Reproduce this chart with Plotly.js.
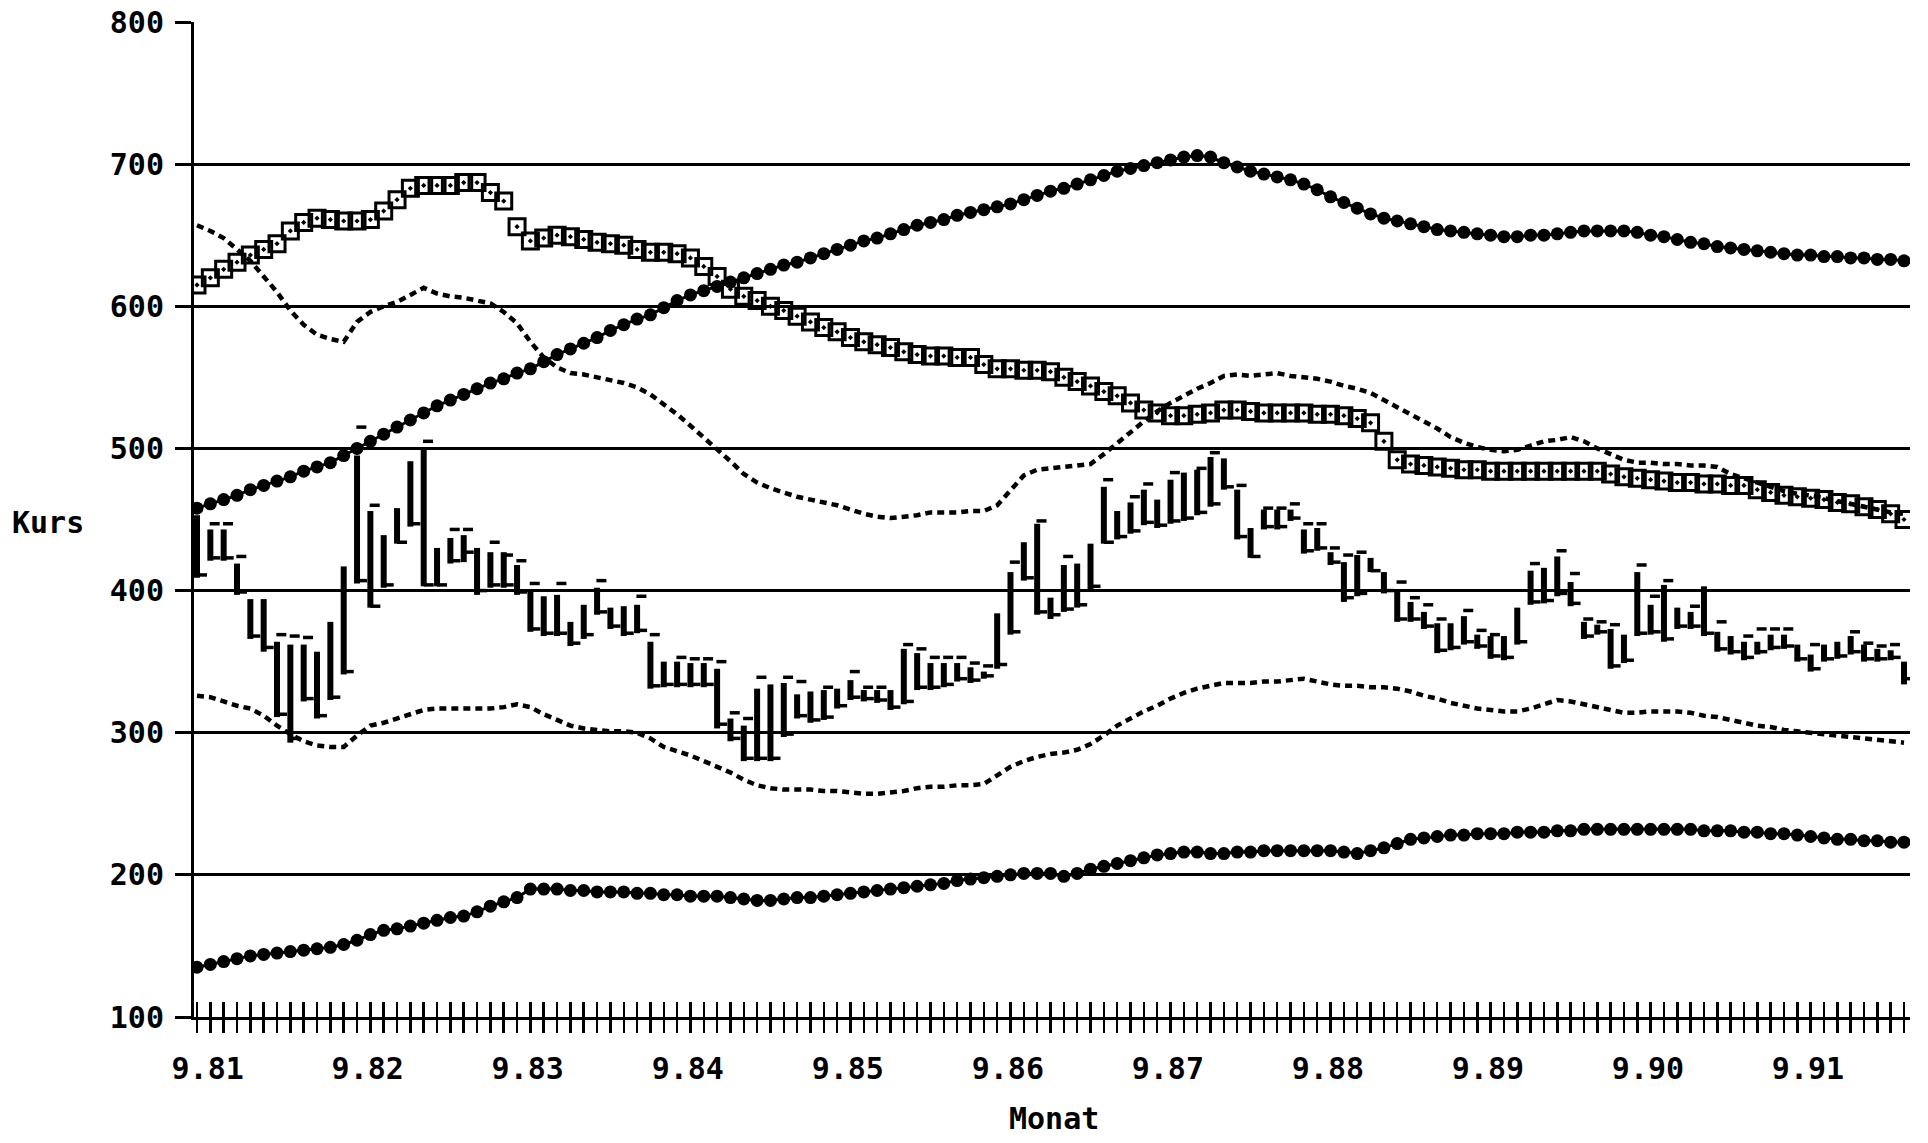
<!DOCTYPE html>
<html>
<head>
<meta charset="utf-8">
<script src="https://cdn.plot.ly/plotly-3.0.1.min.js"></script>
<style>html,body{margin:0;padding:0;background:#fff;}#chart{width:1928px;height:1143px;}</style>
</head>
<body>
<div id="chart"></div>
<script>
// Month index 0..128 (Sept 1981 .. ~1991)
const tickLabels = ["9.81","9.82","9.83","9.84","9.85","9.86","9.87","9.88","9.89","9.90","9.91"];

// Price bars: monthly high / low / close, plus floating dash marks
const high = [453,443,443,419,394,394,364,362,362,357, 378,417,495,456,439,458,491,499,430,437,
 439,430,427,427,418,399,396,397,378,390, 402,388,389,390,364,350,350,349,349,345,
 310,305,331,334,335,327,329,330,331,337, 330,330,330,359,356,349,349,349,346,343,
 384,413,434,447,395,418,419,433,473,456, 462,471,464,478,483,485,494,493,471,444,
 457,457,457,443,444,427,420,425,423,413, 399,392,385,377,377,382,369,368,368,388,
 414,416,424,406,378,376,373,369,413,390, 404,388,385,403,371,368,364,364,369,369,
 362,355,362,364,368,362,359,358,350];
const low = [409,421,421,397,366,357,311,293,322,310, 323,341,405,388,402,433,445,403,403,419,
 420,397,402,402,397,371,368,368,361,366, 383,373,368,370,331,332,332,332,332,303,
 294,280,280,280,297,310,307,309,317,323, 322,321,316,320,330,330,332,336,335,338,
 345,369,407,383,380,385,388,400,433,436, 440,446,444,447,449,453,459,471,436,423,
 443,443,449,426,428,418,392,396,413,398, 378,378,373,356,358,362,359,352,351,362,
 390,391,396,389,366,369,345,349,368,369, 364,373,373,368,357,355,351,355,358,359,
 350,343,350,352,355,350,350,351,334];
const close = [411,423,423,399,368,360,313,296,324,312, 325,343,407,389,404,434,447,404,404,421,
 427,400,404,404,399,373,370,370,363,369, 385,375,370,372,333,334,334,334,334,306,
 296,282,282,282,299,312,309,311,319,325, 324,323,318,322,332,332,334,338,337,340,
 348,371,409,385,383,387,390,403,434,438, 442,448,446,449,451,455,461,473,438,424,
 445,445,451,428,430,420,395,398,414,400, 380,380,375,358,360,364,361,354,353,364,
 392,393,398,391,368,371,347,351,370,371, 366,375,375,370,359,357,353,357,360,361,
 352,345,352,354,357,352,352,353,338];
const marks = [null,447,447,424,null,null,369,368,367,null, null,null,515,460,null,null,null,505,null,443,
 443,null,434,425,421,405,null,405,null,null, 407,null,null,396,369,null,353,352,352,350,
 314,310,339,null,339,336,null,332,null,343, 332,332,null,362,359,353,353,353,349,347,
 null,420,null,449,null,424,null,null,478,null, 466,475,null,483,null,486,497,null,474,null,
 458,458,461,447,447,430,425,427,null,null, 406,395,390,380,null,386,372,369,null,null,
 419,null,428,412,380,378,376,null,418,396, 407,null,389,null,378,null,368,373,373,373,
 null,362,null,null,371,363,361,362,null];

// Upper filled-circle line
const upperDots = [458,461,464,467,471,474,477,480,484,487, 490,495,500,505,510,515,520,525,530,534,
 538,542,546,549,553,556,561,566,570,574, 578,583,587,591,594,599,604,608,611,614,
 617,620,623,626,629,631,634,637,640,643, 646,648,651,654,657,659,661,664,666,668,
 670,672,675,678,681,683,686,689,692,695, 697,699,701,703,705,706,705,701,698,695,
 693,691,689,686,682,677,673,669,665,662, 660,658,656,654,653,652,651,650,649,649,
 650,650,651,652,653,653,653,653,652,650, 649,647,645,644,642,641,640,639,638,637,
 636,636,635,635,634,634,633,633,632];
// Square-marker line
const squares = [615,620,626,631,636,640,644,653,659,662, 661,660,660,661,667,675,683,685,685,685,
 687,687,680,674,656,646,648,650,649,647, 645,644,643,640,638,638,637,634,628,621,
 612,607,604,600,597,593,589,585,582,578, 575,573,571,568,566,565,565,564,564,559,
 556,556,555,555,554,550,547,544,540,537, 532,527,525,523,523,524,525,527,527,526,
 525,525,525,525,524,524,523,521,518,505, 492,489,488,487,486,485,485,484,484,484,
 484,484,484,484,484,484,482,480,479,478, 477,476,476,475,475,474,474,471,469,467,
 466,465,464,462,461,459,457,454,450];
// Upper dotted band
const upperBand = [657,653,648,640,632,621,610,597,587,580, 577,575,589,596,600,603,608,613,609,607,
 606,604,602,596,588,575,564,557,553,552, 550,548,546,543,538,531,524,516,508,500,
 491,482,476,472,469,466,464,462,460,457, 454,452,451,452,453,455,455,455,456,456,
 460,470,481,485,486,487,488,489,496,504, 512,519,526,532,537,542,546,551,552,551,
 552,553,551,550,549,547,544,542,539,534, 529,524,519,514,508,504,501,499,498,499,
 502,505,506,508,505,500,496,492,490,490, 489,489,488,488,487,482,479,476,473,470,
 468,467,465,463,461,459,457,455,454];
// Lower dotted band
const lowerBand = [326,325,322,319,317,312,305,299,294,291, 290,290,298,305,307,310,313,316,317,317,
 317,317,317,318,320,318,313,309,305,303, 302,301,301,300,296,290,287,284,280,276,
 272,267,263,261,260,260,260,259,259,258, 257,257,258,259,261,262,262,263,263,264,
 270,276,280,283,285,286,288,292,298,305, 310,315,319,324,328,331,333,335,335,335,
 336,336,337,338,336,334,333,333,332,332, 331,329,326,324,321,319,317,316,315,315,
 317,320,323,322,320,318,316,314,314,315, 315,315,314,312,311,309,307,305,304,302,
 301,300,299,298,297,296,295,294,293];
// Lower filled-circle line
const lowerDots = [135,137,139,141,143,144,145,146,147,148, 149,151,154,158,161,162,164,166,168,170,
 171,174,178,181,184,190,190,190,189,189, 188,188,188,187,187,186,186,185,185,185,
 184,183,182,182,183,184,184,185,186,187, 188,189,190,191,192,193,194,196,197,198,
 199,200,201,201,201,199,201,204,206,208, 210,212,214,215,216,216,215,215,216,216,
 217,217,217,217,217,217,216,215,217,219, 222,225,226,227,228,228,229,229,229,230,
 230,230,231,231,232,232,232,232,232,232, 232,232,232,231,231,231,230,230,229,229,
 228,227,226,225,225,224,224,223,223];

const months = upperDots.map((_, i) => i);
const labelPos = tickLabels.map((_, k) => 12 * k + 0.8);

// bar geometry built from the arrays
const bx = [], by = [], cx = [], cy = [], mx = [], my = [];
months.forEach(i => {
  bx.push(i, i, null); by.push(low[i], high[i], null);
  cx.push(i, i + 0.75, null); cy.push(close[i], close[i], null);
  if (marks[i] !== null) { mx.push(i - 0.05, i + 0.7, null); my.push(marks[i], marks[i], null); }
});

const black = '#000';
const traces = [
  {x: months, y: upperBand, mode: 'lines', line: {color: black, width: 4.5, dash: '7px,5px'}},
  {x: months, y: lowerBand, mode: 'lines', line: {color: black, width: 4.5, dash: '7px,5px'}},
  {x: months, y: squares, mode: 'markers', marker: {symbol: 'square-open-dot', size: 16, color: black, line: {color: black, width: 3}}},
  {x: months, y: upperDots, mode: 'lines+markers', line: {color: black, width: 3}, marker: {symbol: 'circle', size: 13, color: black}},
  {x: months, y: lowerDots, mode: 'lines+markers', line: {color: black, width: 3}, marker: {symbol: 'circle', size: 13, color: black}},
  {x: bx, y: by, mode: 'lines', line: {color: black, width: 6}, connectgaps: false},
  {x: cx, y: cy, mode: 'lines', line: {color: black, width: 3.5}, connectgaps: false},
  {x: mx, y: my, mode: 'lines', line: {color: black, width: 3.5}, connectgaps: false},
  // empty traces so that the two month-tick axes (outside / inside) are drawn
  {x: [months[0]], y: [null], xaxis: 'x2', mode: 'markers', hoverinfo: 'skip'},
  {x: [months[0]], y: [null], xaxis: 'x3', mode: 'markers', hoverinfo: 'skip'}
];

const font = {family: 'DejaVu Sans Mono', size: 30, color: black, weight: 'bold'};
const xr = [-0.225, 128.45];
const layout = {
  width: 1928, height: 1143,
  margin: {l: 194, r: 18, t: 22, b: 126},
  paper_bgcolor: '#fff', plot_bgcolor: '#fff',
  showlegend: false,
  font: font,
  xaxis: {
    range: xr, showgrid: false, zeroline: false,
    showline: true, linecolor: black, linewidth: 3,
    tickmode: 'array', tickvals: labelPos, ticktext: tickLabels,
    ticks: 'outside', ticklen: 15, tickcolor: 'rgba(0,0,0,0)',
    ticklabelstandoff: 8, tickfont: font
  },
  xaxis2: {
    range: xr, overlaying: 'x', anchor: 'y', showgrid: false, zeroline: false, showline: false,
    tickmode: 'linear', tick0: 0, dtick: 1, ticks: 'outside', ticklen: 15, tickwidth: 2.5, tickcolor: black,
    showticklabels: false
  },
  xaxis3: {
    range: xr, overlaying: 'x', anchor: 'y', showgrid: false, zeroline: false, showline: false,
    tickmode: 'linear', tick0: 0, dtick: 1, ticks: 'inside', ticklen: 15, tickwidth: 2.5, tickcolor: black,
    showticklabels: false
  },
  yaxis: {
    range: [100, 800], tickmode: 'linear', tick0: 100, dtick: 100,
    showgrid: true, gridcolor: black, gridwidth: 3, zeroline: false,
    showline: true, linecolor: black, linewidth: 3,
    ticks: 'outside', ticklen: 16, tickwidth: 3, tickcolor: black,
    ticklabelstandoff: 5, tickfont: font
  },
  annotations: [
    {text: 'Kurs', xref: 'paper', yref: 'paper', x: -0.085, y: 0.4965, xanchor: 'center', yanchor: 'middle', showarrow: false, font: font},
    {text: 'Monat', xref: 'paper', yref: 'paper', x: 0.501, y: -0.1025, xanchor: 'center', yanchor: 'middle', showarrow: false, font: font}
  ]
};

Plotly.newPlot('chart', traces, layout, {staticPlot: true, displayModeBar: false});
</script>
</body>
</html>
